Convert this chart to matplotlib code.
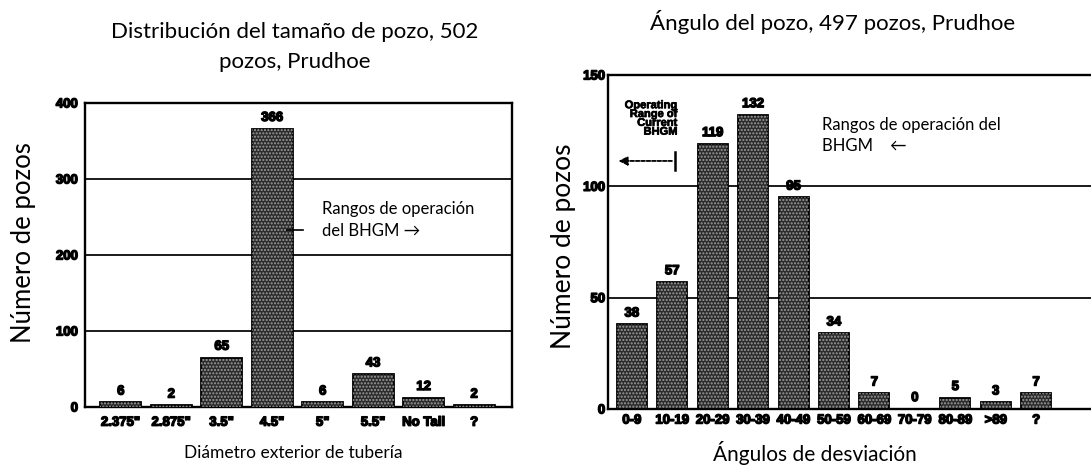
import matplotlib.pyplot as plt
import matplotlib.patheffects as pe

plt.rcParams["font.family"] = ["Lato", "DejaVu Sans"]

# Pozos por diámetro exterior de tubería
size_labels = ['2.375"', '2.875"', '3.5"', '4.5"', '5"', '5.5"', "No Tail", "?"]
size_counts = [6, 2, 65, 366, 6, 43, 12, 2]

# Pozos por ángulo de desviación
angle_labels = ["0-9", "10-19", "20-29", "30-39", "40-49", "50-59",
                "60-69", "70-79", "80-89", ">89", "?"]
angle_counts = [38, 57, 119, 132, 95, 34, 7, 0, 5, 3, 7]

W, H = 1091, 475
fig = plt.figure(figsize=(W / 100, H / 100), dpi=100)


def px_box(x0, y0, x1, y1):
    return [x0 / W, 1 - y1 / H, (x1 - x0) / W, (y1 - y0) / H]


scan_font = dict(family="Liberation Sans", weight="bold", color="black")
fat = [pe.withStroke(linewidth=1.0, foreground="black")]


def draw_bars(ax, labels, counts, width, fs):
    x = range(len(counts))
    ax.bar(x, counts, width, color="#2c2c2c", edgecolor="black", linewidth=1.3, zorder=3)
    ax.bar(x, counts, width, fill=False, hatch=".....", edgecolor="#9c9c9c",
           linewidth=0, zorder=4)
    for i, v in enumerate(counts):
        ax.annotate(str(v), (i, v), xytext=(0, 3.5), textcoords="offset points",
                    ha="center", va="bottom", fontsize=fs, path_effects=fat,
                    **scan_font)
    ax.set_xticks(list(x))
    ax.set_xticklabels(labels, fontsize=fs, path_effects=fat, **scan_font)
    for t in ax.get_yticklabels():
        t.set_fontsize(fs)
        t.set_fontfamily("Liberation Sans")
        t.set_fontweight("bold")
        t.set_path_effects(fat)
    ax.tick_params(length=0)
    ax.grid(axis="y", color="#1a1a1a", linewidth=1.4, zorder=1)
    for s in ax.spines.values():
        s.set_linewidth(1.7)


# Panel izquierdo
ax1 = fig.add_axes(px_box(85, 103, 512, 407))
ax1.set_xlim(-0.71, 7.75)
ax1.set_ylim(0, 400)
ax1.set_yticks([0, 100, 200, 300, 400])
draw_bars(ax1, size_labels, size_counts, 0.81, 9.5)
ax1.tick_params(axis="x", pad=7)
ax1.tick_params(axis="y", pad=5)
ax1.plot([3.29, 3.6], [233, 233], color="black", lw=1.2, zorder=5)
ax1.text(3.98, 246, "Rangos de operación\ndel BHGM \u2192", fontsize=12,
         ha="left", va="center", linespacing=1.4, zorder=6)

# Panel derecho
ax2 = fig.add_axes(px_box(608, 75, 1094, 409))
ax2.set_xlim(-0.59, 11.43)
ax2.set_ylim(0, 150)
ax2.set_yticks([0, 50, 100, 150])
draw_bars(ax2, angle_labels, angle_counts, 0.74, 9.5)
ax2.spines["right"].set_visible(False)
ax2.tick_params(axis="x", pad=4)
ax2.tick_params(axis="y", pad=2)
ax2.text(1.13, 130.5, "Operating\nRange of\nCurrent\nBHGM", fontsize=8,
         ha="right", va="center", linespacing=0.85,
         path_effects=[pe.withStroke(linewidth=0.5, foreground="black")],
         **scan_font)
ax2.annotate("", xy=(-0.4, 111.4), xytext=(1.06, 111.4),
             arrowprops=dict(arrowstyle="-|>", color="black", lw=1.3,
                             linestyle=(0, (2, 1)), mutation_scale=13))
ax2.plot([1.06, 1.06], [107.3, 115.5], color="black", lw=1.8)
ax2.text(4.7, 123, "Rangos de operación del\nBHGM    \u2190", fontsize=12,
         ha="left", va="center", linespacing=1.4)

# Títulos y rótulos de ejes
fig.text(295 / W, 1 - 47 / H, "Distribución del tamaño de pozo, 502\npozos, Prudhoe",
         ha="center", va="center", fontsize=16, linespacing=1.65)
fig.text(833 / W, 1 - 22 / H, "Ángulo del pozo, 497 pozos, Prudhoe",
         ha="center", va="center", fontsize=16)
fig.text(293 / W, 1 - 453 / H, "Diámetro exterior de tubería",
         ha="center", va="center", fontsize=12.5)
fig.text(815 / W, 1 - 453 / H, "Ángulos de desviación",
         ha="center", va="center", fontsize=15)
fig.text(24 / W, 1 - 243 / H, "Número de pozos", rotation=90,
         ha="center", va="center", fontsize=18.5)
fig.text(563 / W, 1 - 246 / H, "Número de pozos", rotation=90,
         ha="center", va="center", fontsize=19)

fig.savefig("out.png", dpi=100)
